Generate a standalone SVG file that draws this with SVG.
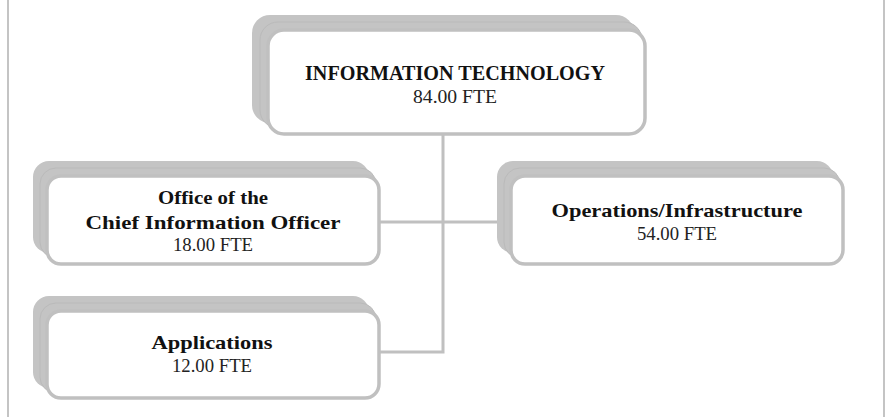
<svg xmlns="http://www.w3.org/2000/svg" width="887" height="417" viewBox="0 0 887 417">
<style>
.sh{fill:#c4c4c4}
.sh2{fill:#c4c4c4;stroke:#bababa;stroke-width:1}
.bx{fill:#ffffff;stroke:#c0c0c0;stroke-width:3.5}
.t{font-family:"Liberation Serif","DejaVu Serif",serif;font-weight:bold;fill:#111;text-anchor:middle}
.s{font-family:"Liberation Serif","DejaVu Serif",serif;fill:#222;text-anchor:middle}
.ln{fill:none;stroke:#c0c0c0;stroke-width:3}
</style>
<rect width="887" height="417" fill="#fff"/>
<line x1="8" y1="0" x2="8" y2="417" stroke="#c4c4c4" stroke-width="2"/>
<line x1="884" y1="0" x2="884" y2="417" stroke="#c4c4c4" stroke-width="2"/>
<g id="connectors">
<path class="ln" d="M443 135 V352 H380"/>
<path class="ln" d="M380 222 H512"/>
</g>
<g id="n-it">
<rect class="sh" x="252" y="15" width="382" height="108" rx="18"/>
<rect class="sh2" x="260" y="22" width="382" height="106" rx="18"/>
<rect class="bx" x="268" y="30" width="377" height="104" rx="16"/>
<text class="t" x="455" y="80" font-size="20" textLength="300" lengthAdjust="spacingAndGlyphs">INFORMATION TECHNOLOGY</text>
<text class="s" x="455" y="103" font-size="18" textLength="84" lengthAdjust="spacingAndGlyphs">84.00 FTE</text>
</g>
<g id="n-cio">
<rect class="sh" x="33" y="161" width="336" height="92" rx="16"/>
<rect class="sh2" x="40" y="168" width="336" height="90" rx="16"/>
<rect class="bx" x="47" y="176" width="332" height="88" rx="14"/>
<text class="t" x="213" y="204" font-size="19" textLength="110" lengthAdjust="spacingAndGlyphs">Office of the</text>
<text class="t" x="213" y="229" font-size="19" textLength="255" lengthAdjust="spacingAndGlyphs">Chief Information Officer</text>
<text class="s" x="213" y="251" font-size="18" textLength="80" lengthAdjust="spacingAndGlyphs">18.00 FTE</text>
</g>
<g id="n-ops">
<rect class="sh" x="497" y="161" width="336" height="92" rx="16"/>
<rect class="sh2" x="504" y="168" width="336" height="90" rx="16"/>
<rect class="bx" x="511" y="176" width="332" height="88" rx="14"/>
<text class="t" x="677" y="217" font-size="19" textLength="251" lengthAdjust="spacingAndGlyphs">Operations/Infrastructure</text>
<text class="s" x="677" y="240" font-size="18" textLength="80" lengthAdjust="spacingAndGlyphs">54.00 FTE</text>
</g>
<g id="n-app">
<rect class="sh" x="33" y="296" width="336" height="92" rx="16"/>
<rect class="sh2" x="40" y="303" width="336" height="90" rx="16"/>
<rect class="bx" x="47" y="311" width="332" height="87" rx="14"/>
<text class="t" x="212" y="349" font-size="19" textLength="121" lengthAdjust="spacingAndGlyphs">Applications</text>
<text class="s" x="212" y="372" font-size="18" textLength="80" lengthAdjust="spacingAndGlyphs">12.00 FTE</text>
</g>
</svg>
